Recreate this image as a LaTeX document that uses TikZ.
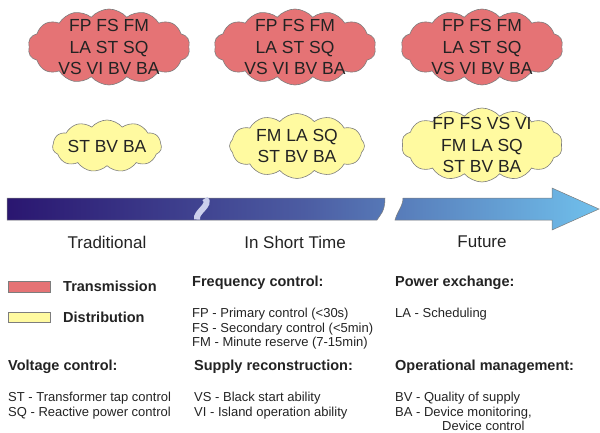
\documentclass[tikz,border=0pt]{standalone}
\usepackage{fontspec}
\setmainfont{Liberation Sans}
\usetikzlibrary{shapes.symbols}
\definecolor{transred}{RGB}{229,115,117}
\definecolor{distyellow}{RGB}{255,250,160}
\definecolor{edgegray}{RGB}{125,125,125}
\definecolor{bardark}{RGB}{42,22,112}
\definecolor{barmid}{RGB}{76,92,162}
\definecolor{barlight}{RGB}{112,192,236}
\definecolor{breakblue}{RGB}{204,208,236}
\definecolor{inkgray}{RGB}{35,35,35}
\begin{document}
\begin{tikzpicture}[x=1pt,y=-1pt,
    cloudbase/.style={cloud,cloud puffs=14,cloud puff arc=100,cloud ignores aspect,
      draw=edgegray,line width=0.6pt,inner sep=0pt},
    redcloud/.style={cloudbase,fill=transred,minimum width=162pt,minimum height=76pt},
    yellowcloud/.style={cloudbase,fill=distyellow},
    cloudtext/.style={align=center,inner sep=0pt,text=inkgray,
      font=\fontsize{17.5}{21.5}\selectfont},
    timelabel/.style={inner sep=0pt,text=inkgray,font=\fontsize{17}{20}\selectfont},
    legendbox/.style={draw=edgegray,line width=0.5pt},
    heading/.style={anchor=base west,inner sep=0pt,text=inkgray,
      font=\fontsize{14.5}{17}\selectfont\bfseries},
    desc/.style={anchor=base west,inner sep=0pt,text=inkgray,
      font=\fontsize{13}{15}\selectfont}]

    \useasboundingbox (0,0) rectangle (600,432);

    % Clouds for transmission
    \node[redcloud] (trad red) at (109,47) {};
    \node[redcloud] (short red) at (295,47) {};
    \node[redcloud] (future red) at (482,47) {};
    \foreach \c in {trad red,short red,future red}
        \node[cloudtext] at (\c) {FP FS FM\\LA ST SQ\\VS VI BV BA};

    % Clouds for distribution
    \node[yellowcloud,cloud puffs=11,minimum width=109pt,minimum height=52pt] (trad yellow) at (107,146) {};
    \node[yellowcloud,cloud puffs=12,minimum width=135pt,minimum height=65pt] (short yellow) at (297,146) {};
    \node[yellowcloud,minimum width=161pt,minimum height=74pt] (future yellow) at (482,145) {};
    \node[cloudtext] (trad text) at (trad yellow) {ST BV BA};
    \node[cloudtext] (short text) at (short yellow) {FM LA SQ\\ST BV BA};
    \node[cloudtext] (future text) at (future yellow) {FP FS VS VI\\FM LA SQ\\ST BV BA};

    % Time arrow
    \shade[left color=bardark,right color=barlight,middle color=barmid]
        (7,198) -- (385,198) .. controls (385,212) and (380,215) .. (377,220) -- (7,220) -- cycle
        (403,198) -- (552,198) -- (552,188) -- (599,209) -- (552,230) -- (552,220) -- (395,220)
        .. controls (397,212) and (403,206) .. (403,198) -- cycle;
    \draw[edgegray,line width=0.5pt]
        (7,198) -- (385,198) .. controls (385,212) and (380,215) .. (377,220) -- (7,220) -- cycle
        (403,198) -- (552,198) -- (552,188) -- (599,209) -- (552,230) -- (552,220) -- (395,220)
        .. controls (397,212) and (403,206) .. (403,198) -- cycle;
    \draw[breakblue,line width=6pt] (205,198.5) .. controls (212,205) and (195,212) .. (197,219.5);

    \node[timelabel] (traditional) at (107,242) {Traditional};
    \node[timelabel] (short time) at (295,242) {In Short Time};
    \node[timelabel] (future) at (482,242) {Future};

    % Legend
    \draw[legendbox,fill=transred] (8,281.5) rectangle (50,292);
    \draw[legendbox,fill=distyellow] (8,312) rectangle (50,322.5);
    \node[heading] (transmission) at (63,291.2) {Transmission};
    \node[heading] (distribution) at (63,322.2) {Distribution};

    % Explanations
    \node[heading] (frequency) at (192,286.2) {Frequency control:};
    \node[desc] (fp) at (192,317.7) {FP - Primary control (<30s)};
    \node[desc] (fs) at (192,332.2) {FS - Secondary control (<5min)};
    \node[desc] (fm) at (192,346.7) {FM - Minute reserve (7-15min)};

    \node[heading] (exchange) at (395,286.2) {Power exchange:};
    \node[desc] (la) at (395,317.7) {LA - Scheduling};

    \node[heading] (voltage) at (8,370.2) {Voltage control:};
    \node[desc] (st) at (8,401.7) {ST - Transformer tap control};
    \node[desc] (sq) at (8,416.7) {SQ - Reactive power control};

    \node[heading] (supply) at (194,370.2) {Supply reconstruction:};
    \node[desc] (vs) at (194,401.7) {VS - Black start ability};
    \node[desc] (vi) at (194,416.7) {VI - Island operation ability};

    \node[heading] (operation) at (395,370.2) {Operational management:};
    \node[desc] (bv) at (395,401.7) {BV - Quality of supply};
    \node[desc] (ba) at (395,416.7) {BA - Device monitoring,};
    \node[desc] (device) at (442,430.7) {Device control};

\end{tikzpicture}
\end{document}
